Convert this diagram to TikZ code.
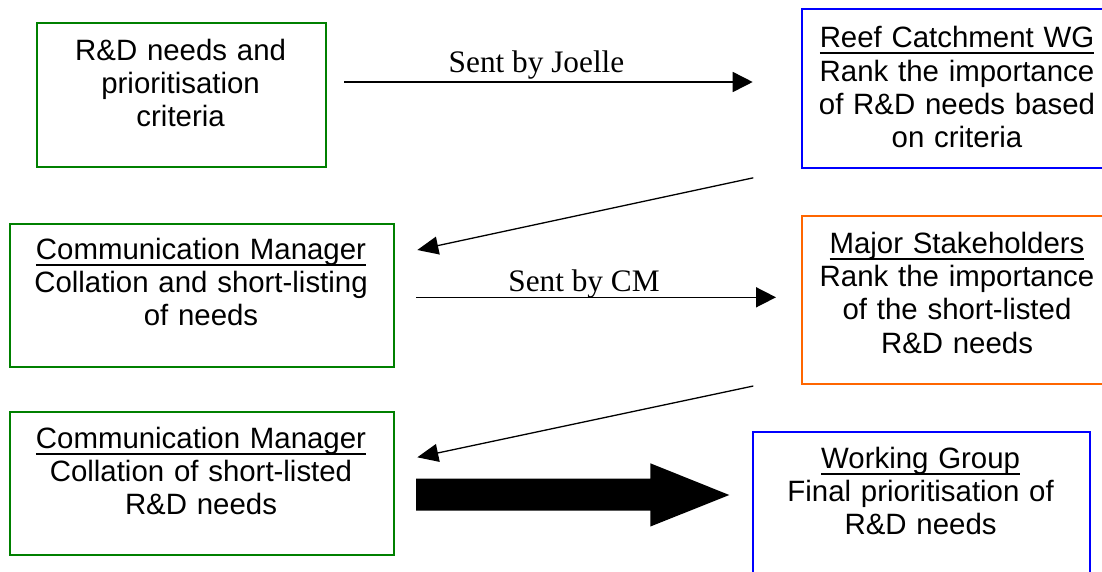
\documentclass[tikz,border=0pt]{standalone}
\usepackage{fontspec}
\setmainfont{Liberation Sans}
\newfontfamily\labelserif{Liberation Serif}
\usetikzlibrary{arrows.meta}
\definecolor{bxgreen}{RGB}{0,128,0}
\definecolor{bxblue}{RGB}{0,0,255}
\definecolor{bxorange}{RGB}{255,102,0}
\newcommand\hdul[1]{\setbox0\hbox{#1}\rlap{\rule[-6.5pt]{\wd0}{2pt}}\box0}
\begin{document}
\begin{tikzpicture}[x=1pt,y=-1pt,
  boxbase/.style={line width=1.9pt, inner sep=0pt, anchor=north west},
  boxg/.style={boxbase, draw=bxgreen},
  boxb/.style={boxbase, draw=bxblue},
  boxo/.style={boxbase, draw=bxorange},
  txt/.style={text width=380pt, align=center, inner sep=0pt, anchor=base,
              font=\fontsize{29.4}{33.3}\selectfont},
  lbl/.style={inner sep=0pt, anchor=base, font=\labelserif\fontsize{31.3}{36}\selectfont},
  conn/.style={line width=1.6pt, -{Triangle[length=20pt,width=20pt]}},
  diag/.style={line width=1.3pt, -{Triangle[length=21pt,width=18pt]}}]
\useasboundingbox (0,0) rectangle (1102,571);
\clip (0,0) rectangle (1102,571);

% boxes
\node[boxg, minimum width=289pt, minimum height=143.7pt] (b1) at (35.8,22.3) {};
\node[boxb, minimum width=312pt, minimum height=158.7pt] (b2) at (801,8.3) {};
\node[boxg, minimum width=384.5pt, minimum height=143.3pt] (b3) at (8.8,222.7) {};
\node[boxo, minimum width=312pt, minimum height=168.3pt] (b4) at (801,215) {};
\node[boxg, minimum width=384.5pt, minimum height=143.6pt] (b5) at (8.8,410.7) {};
\node[boxb, minimum width=336.7pt, minimum height=170pt] (b6) at (752.3,431) {};

% texts
\node[txt] (t1) at (180.6,60) {R\&D needs and\\prioritisation\\criteria};
\node[txt] (t2) at (957,47.7) {\hdul{Reef Catchment WG}\\Rank the importance\\of R\&D needs based\\on criteria};
\node[txt] (t3) at (201,259.3) {\hdul{Communication Manager}\\Collation and short-listing\\of needs};
\node[txt] (t4) at (957,253.3) {\hdul{Major Stakeholders}\\Rank the importance\\of the short-listed\\R\&D needs};
\node[txt] (t5) at (201,448.3) {\hdul{Communication Manager}\\Collation of short-listed\\R\&D needs};
\node[txt] (t6) at (920.6,468.3) {\hdul{Working Group}\\Final prioritisation of\\R\&D needs};

% connector end points
\coordinate (a1s) at (344,82);
\coordinate (a1e) at (752.7,82);
\coordinate (d1s) at (753.3,177.8);
\coordinate (d1e) at (417.3,250);
\coordinate (a2s) at (416,297.3);
\coordinate (a2e) at (776,297.3);
\coordinate (d2s) at (753.3,386);
\coordinate (d2e) at (417.3,457.3);

\draw[conn] (a1s) -- (a1e);
\draw[diag] (d1s) -- (d1e);
\draw[conn] (a2s) -- (a2e);
\draw[diag] (d2s) -- (d2e);

% labels
\node[lbl] (l1) at (536.5,72) {Sent by Joelle};
\node[lbl] (l2) at (584,291) {Sent by CM};

% big block arrow
\fill[black] (416,478.5) -- (650.4,478.5) -- (650.4,463.3) -- (729.3,495)
  -- (650.4,526.5) -- (650.4,510.7) -- (416,510.7) -- cycle;
\end{tikzpicture}
\end{document}
